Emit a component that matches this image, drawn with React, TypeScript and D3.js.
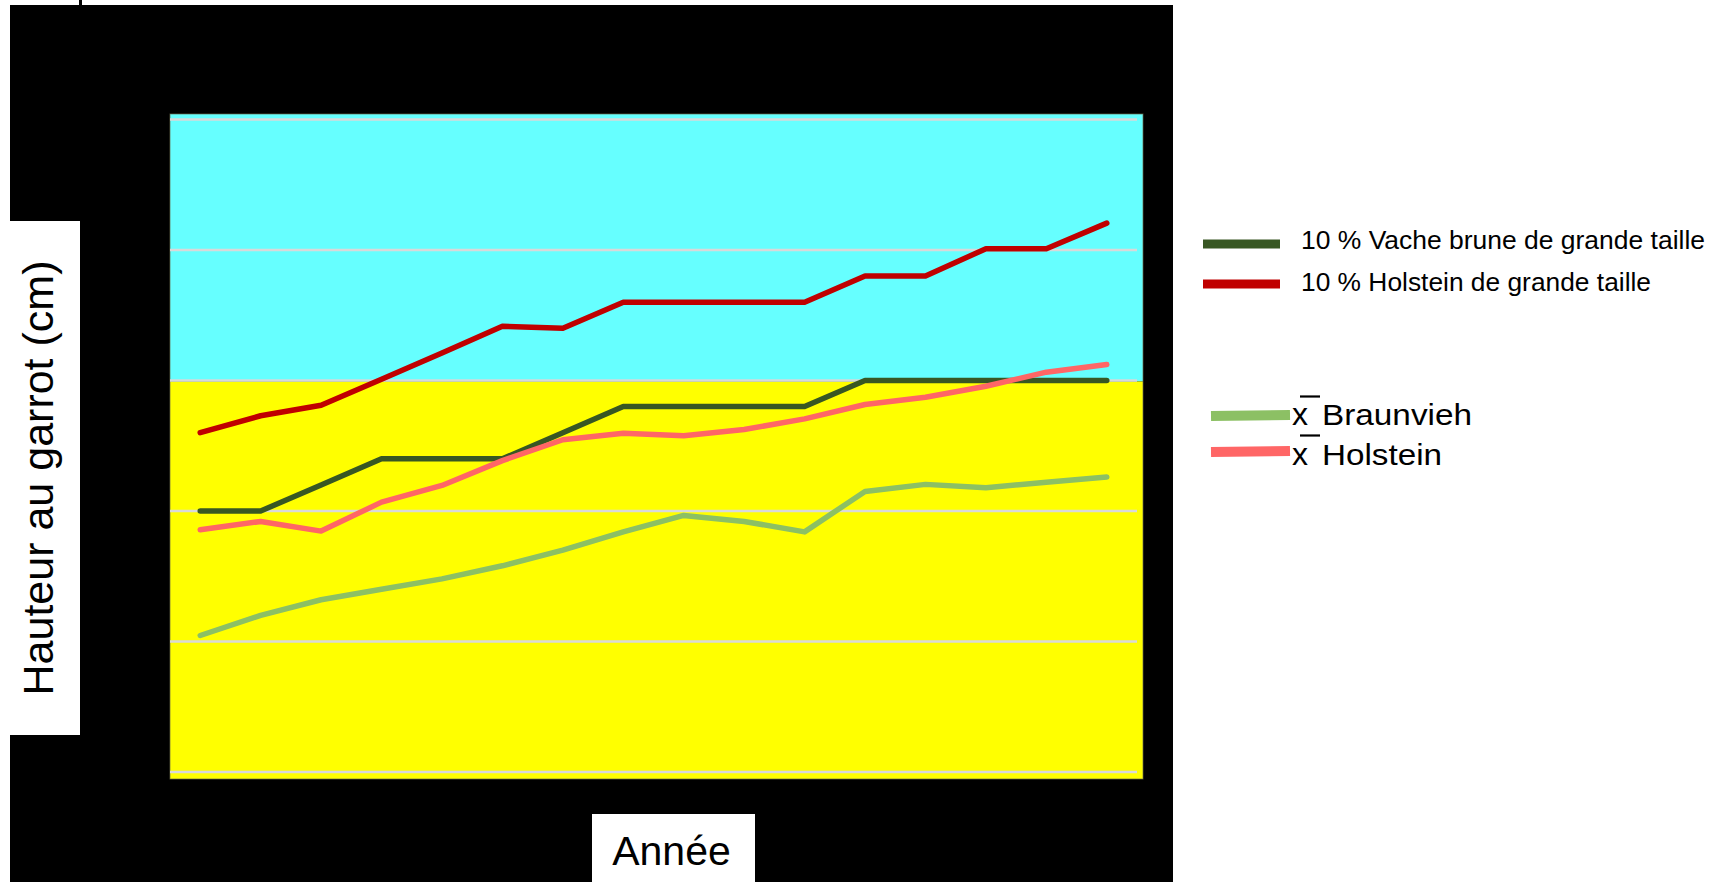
import React from 'react';
import * as d3 from 'd3';

const years = ['2000','2001','2002','2003','2004','2005','2006','2007','2008','2009','2010','2011','2012','2013','2014','2015'];
const top10Braunvieh = [135,135,136,137,137,137,138,139,139,139,139,140,140,140,140,140];
const top10Holstein = [138,138.65,139.05,140.05,141.05,142.08,142.0,143,143,143,143,144,144,145.05,145.05,146.03];
const meanBraunvieh = [130.23,131,131.6,132,132.4,132.9,133.5,134.2,134.83,134.6,134.2,135.75,136.02,135.89,136.1,136.3];
const meanHolstein = [134.28,134.6,134.23,135.34,135.98,136.93,137.73,137.98,137.88,138.12,138.53,139.08,139.36,139.78,140.32,140.61];
const gridValues = [125,130,135,140,145,150];
const legendTop = ['10 % Vache brune de grande taille','10 % Holstein de grande taille'];
const legendMean = ['Braunvieh','Holstein'];
const yTitle = 'Hauteur au garrot (cm)';
const xTitle = 'Année';

const C_DKGREEN = '#385723';
const C_RED = '#C00000';
const C_PINK = '#FF6666';
const C_LTGREEN = '#8CC064';

export default function App() {
  const W = 1721, H = 882;
  const x = d3.scalePoint<string>().domain(years).range([170, 1137]).padding(0.5);
  const y = d3.scaleLinear().domain([125, 150]).range([772, 119.5]);
  const line = d3.line<number>().x((_, i) => x(years[i]) as number).y(d => y(d));
  const plotTop = y(150) - 5.5;
  const plotBottom = y(125) + 7;
  const series = [
    { values: meanBraunvieh, color: C_LTGREEN },
    { values: top10Braunvieh, color: C_DKGREEN },
    { values: meanHolstein, color: C_PINK },
    { values: top10Holstein, color: C_RED },
  ];
  const font = 'Arial, "Liberation Sans", sans-serif';
  return (
    <svg width={W} height={H} style={{ position: 'fixed', left: 0, top: 0, background: '#fff' }} fontFamily={font}>
      <rect x={0} y={0} width={W} height={H} fill="#fff" />
      <rect x={79} y={0} width={3} height={6} fill="#000" />
      <rect x={10} y={5} width={1163} height={H - 5} fill="#000" />
      {/* plot backgrounds */}
      <rect x={170} y={plotTop} width={973} height={y(140) + 1 - plotTop} fill="#66FFFF" />
      <rect x={170} y={y(140) + 1} width={973} height={plotBottom - y(140) - 1} fill="#FFFF00" />
      <rect x={170} y={plotTop} width={973} height={plotBottom - plotTop} fill="none" stroke="#6a6a4a" strokeWidth={1} opacity={0.7} />
      {gridValues.map(v => (
        <line key={v} x1={170} x2={1137} y1={y(v)} y2={y(v)} stroke="#D9D9D9" strokeWidth={2.5} />
      ))}
      {series.map((s, i) => (
        <path key={i} d={line(s.values) as string} fill="none" stroke={s.color} strokeWidth={5.5} strokeLinecap="round" strokeLinejoin="round" />
      ))}
      {/* y title */}
      <rect x={0} y={221} width={80} height={514} fill="#fff" />
      <text transform="translate(53,478) rotate(-90)" textAnchor="middle" fontSize={43} fill="#000">{yTitle}</text>
      {/* x title */}
      <rect x={592} y={814} width={163} height={68} fill="#fff" />
      <text x={671.5} y={865} textAnchor="middle" fontSize={41} fill="#000">{xTitle}</text>
      {/* legend */}
      <line x1={1203} x2={1280} y1={244} y2={244} stroke={C_DKGREEN} strokeWidth={9} />
      <line x1={1203} x2={1280} y1={284} y2={284} stroke={C_RED} strokeWidth={9} />
      <text x={1301} y={249} fontSize={26} fill="#000" textLength={404} lengthAdjust="spacingAndGlyphs">{legendTop[0]}</text>
      <text x={1301} y={291} fontSize={26} fill="#000" textLength={350} lengthAdjust="spacingAndGlyphs">{legendTop[1]}</text>
      <line x1={1211} x2={1290} y1={416} y2={415} stroke={C_LTGREEN} strokeWidth={10} />
      <line x1={1211} x2={1290} y1={452} y2={451} stroke={C_PINK} strokeWidth={10} />
      <text x={1292} y={425} fontSize={32} fill="#000">x</text>
      <line x1={1300} x2={1320} y1={396.5} y2={396.5} stroke="#000" strokeWidth={2.2} />
      <text x={1322} y={425} fontSize={30} fill="#000" textLength={150} lengthAdjust="spacingAndGlyphs">{legendMean[0]}</text>
      <text x={1292} y={465} fontSize={32} fill="#000">x</text>
      <line x1={1300} x2={1320} y1={435.5} y2={435.5} stroke="#000" strokeWidth={2.2} />
      <text x={1322} y={465} fontSize={30} fill="#000" textLength={120} lengthAdjust="spacingAndGlyphs">{legendMean[1]}</text>
    </svg>
  );
}
